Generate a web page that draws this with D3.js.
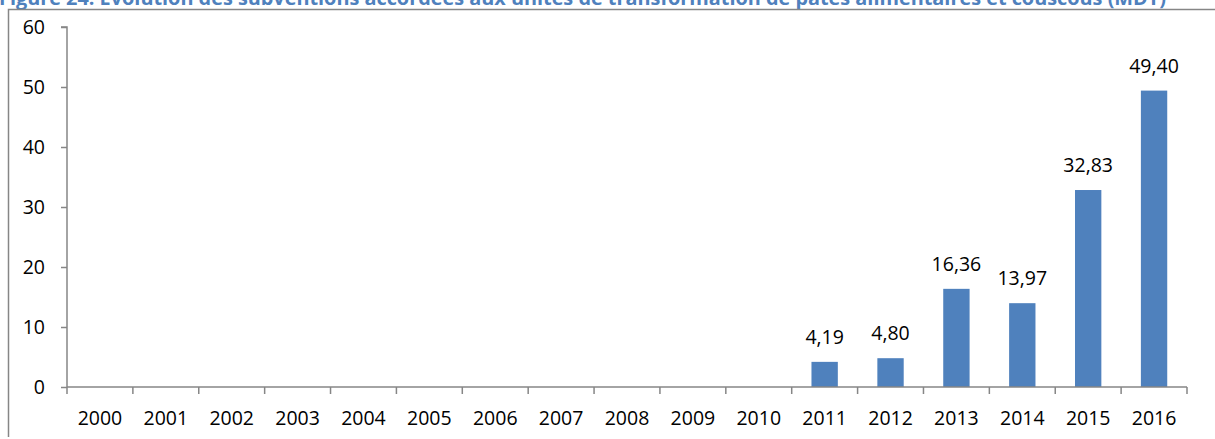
<!DOCTYPE html>
<html><head><meta charset="utf-8">
<script src="https://cdn.jsdelivr.net/npm/d3@7"></script>
<style>body{margin:0;background:#fff;}svg{display:block;}</style>
</head><body>
<svg id="c" width="1215" height="439"></svg>
<script>
const titleText = "Figure 24: Évolution des subventions accordées aux unités de transformation de pâtes alimentaires et couscous (MDT)";
const years = ["2000","2001","2002","2003","2004","2005","2006","2007","2008","2009","2010","2011","2012","2013","2014","2015","2016"];
const values = [0,0,0,0,0,0,0,0,0,0,0,4.19,4.80,16.36,13.97,32.83,49.40];
const yTicks = [0,10,20,30,40,50,60];

const svg = d3.select("#c");
const font = "'Open Sans', sans-serif";
const axisColor = "#868686";
const barColor = "#4F81BD";

// title (clipped at top)
svg.append("text").attr("x", -1).attr("y", 5)
  .attr("textLength", 1167).attr("lengthAdjust", "spacingAndGlyphs")
  .attr("font-family", font).attr("font-weight", "bold").attr("font-size", 19)
  .attr("fill", "#4F81BD").text(titleText);

// outer border
svg.append("path").attr("d", "M8.5,437 V9.5 H1216")
  .attr("fill", "none").attr("stroke", axisColor).attr("stroke-width", 1.5);

const x = d3.scaleBand().domain(years).range([67, 1187]).paddingInner(0.6).paddingOuter(0.3);
const y = d3.scaleLinear().domain([0, 60]).range([387, 27]);

// bars
const data = years.map((yr, i) => ({yr, v: values[i]}));
svg.append("g").selectAll("rect").data(data.filter(d => d.v > 0)).join("rect")
  .attr("x", d => x(d.yr)).attr("width", x.bandwidth())
  .attr("y", d => y(d.v)).attr("height", d => y(0) - y(d.v))
  .attr("fill", barColor);

// value labels
svg.append("g").selectAll("text").data(data.filter(d => d.v > 0)).join("text")
  .attr("x", d => x(d.yr) + x.bandwidth() / 2).attr("y", d => y(d.v) - 18)
  .attr("text-anchor", "middle").attr("font-family", font).attr("font-size", 19.5).attr("fill", "#000")
  .text(d => d3.format(".2f")(d.v).replace(".", ","));

// y axis
const yAxis = svg.append("g").attr("transform", "translate(67,0)")
  .call(d3.axisLeft(y).tickValues(yTicks).tickSize(6).tickPadding(16).tickFormat(d3.format("d")));
yAxis.select(".domain").attr("stroke", axisColor).attr("stroke-width", 1.5).attr("d", "M-6,27H0V387");
yAxis.selectAll(".tick line").attr("stroke", axisColor).attr("stroke-width", 1.5);
yAxis.selectAll(".tick text").attr("font-family", font).attr("font-size", 19.5).attr("fill", "#000");

// x axis
const xAxis = svg.append("g").attr("transform", "translate(0,387)")
  .call(d3.axisBottom(x).tickSize(0).tickPadding(0));
xAxis.select(".domain").attr("stroke", axisColor).attr("stroke-width", 1.5).attr("d", "M67,0H1187");
xAxis.selectAll(".tick text").attr("font-family", font).attr("font-size", 19.5).attr("fill", "#000")
  .attr("y", 38).attr("dy", 0);
// boundary ticks between categories
const step = x.step();
const bounds = d3.range(years.length + 1).map(i => 67 + i * (1120 / years.length));
xAxis.append("g").selectAll("line").data(bounds).join("line")
  .attr("x1", d => d).attr("x2", d => d).attr("y1", 0).attr("y2", 7)
  .attr("stroke", axisColor).attr("stroke-width", 1.5);
</script>
</body></html>
